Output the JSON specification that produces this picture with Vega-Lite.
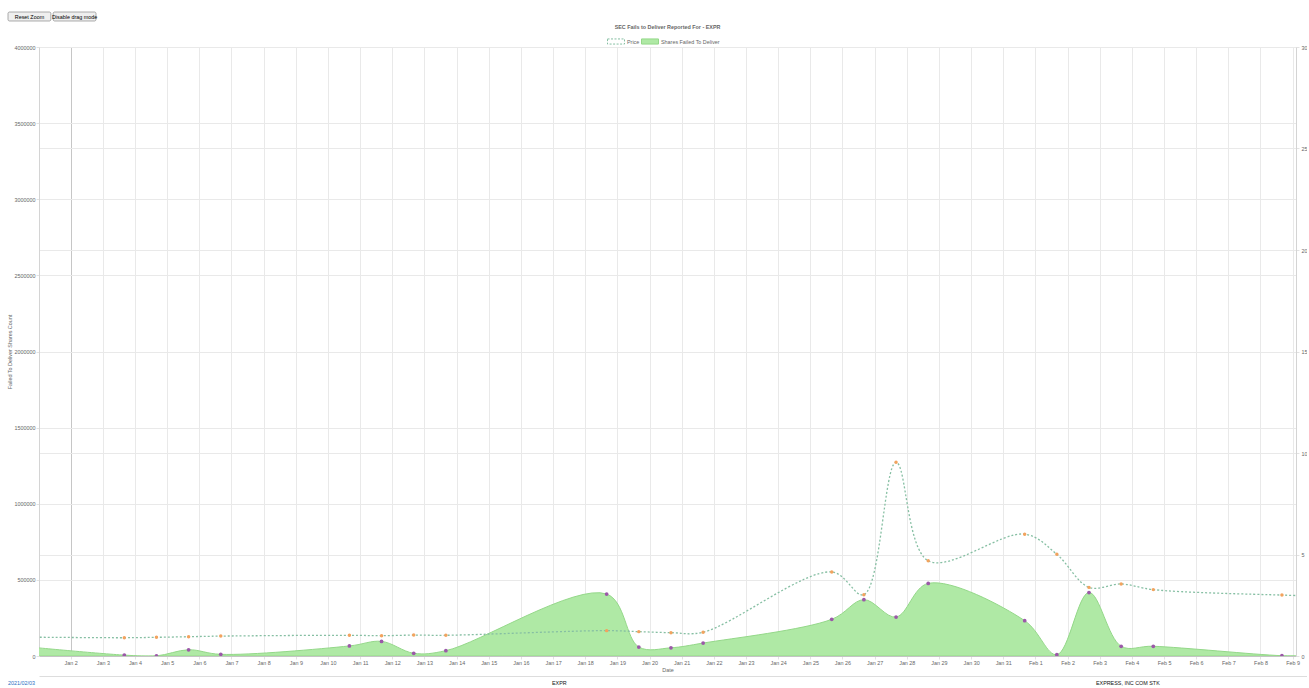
{
  "$schema": "https://vega.github.io/schema/vega-lite/v6.json",
  "background": "white",
  "padding": {"left": 7, "top": 11, "right": 0, "bottom": 0},
  "spacing": 3,
  "config": {
    "font": "Liberation Sans",
    "view": {"stroke": null},
    "axis": {
      "labelFont": "Liberation Sans",
      "labelFontSize": 5.4,
      "labelColor": "#666666",
      "titleFont": "Liberation Sans",
      "titleFontSize": 5.4,
      "titleColor": "#666666",
      "titleFontWeight": "normal",
      "gridColor": "#e9e9e9",
      "domainColor": "#d4d4d4",
      "tickColor": "#e2e2e2",
      "tickSize": 3
    }
  },
  "datasets": {
    "ftd": [
      {"date": "2020-12-31T16:00:00", "ftd": 60000, "price": 0.93},
      {"date": "2021-01-03T16:00:00", "ftd": 6000, "price": 0.90},
      {"date": "2021-01-04T16:00:00", "ftd": 800, "price": 0.92},
      {"date": "2021-01-05T16:00:00", "ftd": 41000, "price": 0.95},
      {"date": "2021-01-06T16:00:00", "ftd": 11000, "price": 0.98},
      {"date": "2021-01-10T16:00:00", "ftd": 66000, "price": 1.02},
      {"date": "2021-01-11T16:00:00", "ftd": 96000, "price": 1.00},
      {"date": "2021-01-12T16:00:00", "ftd": 18000, "price": 1.03},
      {"date": "2021-01-13T16:00:00", "ftd": 35000, "price": 1.02},
      {"date": "2021-01-18T16:00:00", "ftd": 407000, "price": 1.25},
      {"date": "2021-01-19T16:00:00", "ftd": 59000, "price": 1.20},
      {"date": "2021-01-20T16:00:00", "ftd": 54000, "price": 1.15},
      {"date": "2021-01-21T16:00:00", "ftd": 85000, "price": 1.17},
      {"date": "2021-01-25T16:00:00", "ftd": 241000, "price": 4.14},
      {"date": "2021-01-26T16:00:00", "ftd": 370000, "price": 3.02},
      {"date": "2021-01-27T16:00:00", "ftd": 256000, "price": 9.54},
      {"date": "2021-01-28T16:00:00", "ftd": 477000, "price": 4.69},
      {"date": "2021-01-31T16:00:00", "ftd": 232000, "price": 6.00},
      {"date": "2021-02-01T16:00:00", "ftd": 8500, "price": 5.01},
      {"date": "2021-02-02T16:00:00", "ftd": 417000, "price": 3.38},
      {"date": "2021-02-03T16:00:00", "ftd": 64000, "price": 3.55},
      {"date": "2021-02-04T16:00:00", "ftd": 64000, "price": 3.27},
      {"date": "2021-02-08T16:00:00", "ftd": 2000, "price": 3.00},
      {"date": "2021-02-09T16:00:00", "ftd": 1000, "price": 2.96}
    ],
    "buttons": [
      {"label": "Reset Zoom"},
      {"label": "Disable drag mode"}
    ],
    "footer": [
      {"column": "date", "text": "2021/02/03"},
      {"column": "symbol", "text": "EXPR"},
      {"column": "name", "text": "EXPRESS, INC COM STK"}
    ]
  },
  "vconcat": [
    {
      "width": 88,
      "height": 9,
      "data": {"name": "buttons"},
      "encoding": {
        "x": {"field": "label", "type": "nominal", "sort": null, "axis": null, "scale": {"paddingInner": 0.05, "paddingOuter": 0}}
      },
      "layer": [
        {"mark": {"type": "rect", "fill": "#efefef", "stroke": "#767676", "strokeWidth": 0.6, "cornerRadius": 1.5, "xOffset": -31, "x2Offset": -31}, "encoding": {}},
        {"mark": {"type": "text", "fontSize": 5.4, "font": "Liberation Sans", "color": "#000000", "baseline": "middle", "xOffset": -31}, "encoding": {"text": {"field": "label"}}}
      ]
    },
    {
      "width": 1257,
      "height": 609,
      "title": {"text": "SEC Fails to Deliver Reported For - EXPR", "fontSize": 5.4, "fontWeight": "bold", "color": "#666666", "font": "Liberation Sans", "anchor": "middle", "offset": 2},
      "data": {"name": "ftd"},
      "encoding": {
        "x": {
          "field": "date",
          "type": "temporal",
          "scale": {"domain": [{"year": 2021, "month": 1, "date": 1, "hours": 0, "minutes": 20}, {"year": 2021, "month": 2, "date": 9, "hours": 2, "minutes": 30}]},
          "axis": {
            "title": "Date",
            "format": "%b %-d",
            "tickCount": {"interval": "day", "step": 1},
            "labelFlush": false,
            "labelOverlap": false,
            "labelPadding": 1,
            "titlePadding": 2,
            "domainColor": "#c4c4c4",
            "gridColor": {"condition": {"test": "month(datum.value) == 0 && date(datum.value) == 2", "value": "#c6c6c6"}, "value": "#e9e9e9"}
          }
        }
      },
      "layer": [
        {
          "encoding": {
            "y": {
              "field": "ftd",
              "type": "quantitative",
              "scale": {"domain": [0, 4000000]},
              "axis": {"orient": "left", "values": [0, 500000, 1000000, 1500000, 2000000, 2500000, 3000000, 3500000, 4000000], "format": "d", "title": "Failed To Deliver Shares Count", "labelPadding": 1, "titlePadding": 2, "grid": true}
            }
          },
          "layer": [
            {
              "mark": {"type": "area", "interpolate": "catmull-rom", "stroke": "#94d889", "strokeWidth": 1, "clip": true},
              "encoding": {
                "fill": {
                  "datum": "Shares Failed To Deliver",
                  "scale": {"range": ["#afe9a5"]},
                  "legend": {"orient": "none", "legendX": 602, "legendY": -14.5, "title": null, "symbolType": "M-1,-0.3H1V0.3H-1Z", "symbolSize": 289, "symbolStrokeColor": "#94d889", "symbolStrokeWidth": 1, "symbolOpacity": 1, "labelFontSize": 5.4, "labelColor": "#666666", "labelFont": "Liberation Sans", "labelOffset": 2, "padding": 0}
                }
              }
            },
            {"mark": {"type": "point", "filled": true, "size": 14, "color": "#9b58a8", "opacity": 1, "clip": true}, "encoding": {}}
          ]
        },
        {
          "encoding": {
            "y": {
              "field": "price",
              "type": "quantitative",
              "scale": {"domain": [0, 30]},
              "axis": {"orient": "right", "values": [0, 5, 10, 15, 20, 25, 30], "title": null, "labelPadding": 2, "grid": true}
            }
          },
          "layer": [
            {
              "mark": {"type": "line", "interpolate": "catmull-rom", "strokeDash": [2, 2], "strokeWidth": 1.3, "clip": true},
              "encoding": {
                "stroke": {
                  "datum": "Price",
                  "scale": {"range": ["#86bfa3"]},
                  "legend": {"orient": "none", "legendX": 568, "legendY": -14.5, "title": null, "symbolType": "M-1,-0.3H1V0.3H-1Z", "symbolSize": 289, "symbolFillColor": "#ffffff", "symbolDash": [2, 1.5], "symbolStrokeWidth": 1, "labelFontSize": 5.4, "labelColor": "#666666", "labelFont": "Liberation Sans", "labelOffset": 2, "padding": 0}
                }
              }
            },
            {"mark": {"type": "point", "filled": true, "size": 12, "color": "#f2a35e", "opacity": 1, "clip": true}, "encoding": {}}
          ]
        }
      ],
      "resolve": {"scale": {"y": "independent", "fill": "independent", "stroke": "independent"}}
    },
    {
      "width": 1268,
      "height": 8,
      "data": {"name": "footer"},
      "mark": {"type": "text", "align": "left", "baseline": "middle", "fontSize": 5.4, "font": "Liberation Sans", "xOffset": -31, "dy": 3},
      "encoding": {
        "x": {"field": "column", "type": "nominal", "sort": null, "scale": {"type": "point", "padding": 0.1655, "align": 0}, "axis": {"orient": "top", "labels": false, "ticks": false, "title": null, "domainColor": "#dddddd", "grid": false}},
        "text": {"field": "text"},
        "color": {"condition": {"test": "datum.column == 'date'", "value": "#2a6fc4"}, "value": "#111111"}
      }
    }
  ]
}
